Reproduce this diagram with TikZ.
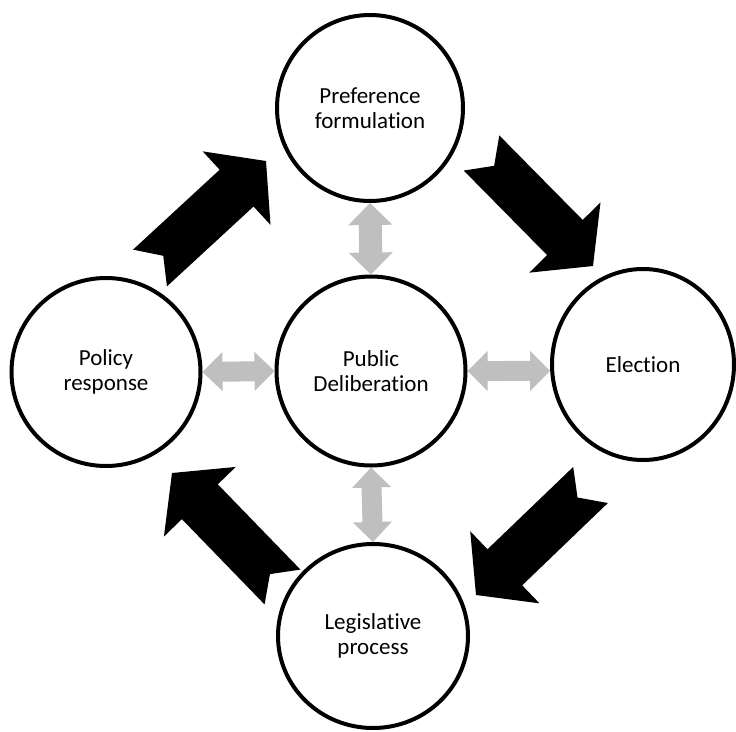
\documentclass[tikz,border=0pt]{standalone}
\usepackage{fontspec}
\setmainfont{Carlito}[Ligatures={NoCommon,NoRare},Contextuals=NoAlternate]
\usetikzlibrary{calc,shapes.geometric}
\definecolor{arrgray}{HTML}{BFBFBF}
\tikzset{
  stage/.style={ellipse, draw=black, line width=4pt, fill=white, inner sep=0pt,
    align=center, font=\fontsize{23}{25.6}\selectfont},
  flowarrow/.style={fill=black},
  linkfill/.style={fill=arrgray},
}
% notched block arrow from #1 (tail middle) to #2 (tip)
\newcommand\mkblockarrow[2]{%
  \fill[flowarrow] ($(#1)!25pt!90:(#2)$)
    -- ($(#2)!40pt!(#1)!25pt!-90:(#1)$)
    -- ($(#2)!40pt!(#1)!50pt!-90:(#1)$)
    -- (#2)
    -- ($(#2)!40pt!(#1)!50pt!90:(#1)$)
    -- ($(#2)!40pt!(#1)!25pt!90:(#1)$)
    -- ($(#1)!25pt!-90:(#2)$)
    -- ($(#1)!18pt!(#2)$) -- cycle;}
% double-headed block arrow: #1,#2 ends, #3 head length, #4 head half width, #5 shaft half width
\newcommand\mkduoarrow[5]{%
  \fill[linkfill] (#1)
    -- ($(#1)!#3!(#2)!#4!90:(#2)$)
    -- ($(#1)!#3!(#2)!#5!90:(#2)$)
    -- ($(#2)!#3!(#1)!#5!-90:(#1)$)
    -- ($(#2)!#3!(#1)!#4!-90:(#1)$)
    -- (#2)
    -- ($(#2)!#3!(#1)!#4!90:(#1)$)
    -- ($(#2)!#3!(#1)!#5!90:(#1)$)
    -- ($(#1)!#3!(#2)!#5!-90:(#2)$)
    -- ($(#1)!#3!(#2)!#4!-90:(#2)$) -- cycle;}
\begin{document}
\begin{tikzpicture}[x=1pt,y=-1pt]
\useasboundingbox (0,0) rectangle (736,731);
\clip (0,0) rectangle (736,731);
\node[stage, minimum width=186pt, minimum height=186pt] (pref) at (370,108) {Preference\\formulation};
\node[stage, minimum width=189pt, minimum height=188pt] (policy) at (106,372) {Policy\\response};
\node[stage, minimum width=189pt, minimum height=189pt] (delib) at (371,371) {Public\\Deliberation};
\node[stage, minimum width=182pt, minimum height=191pt] (elect) at (643,364.5) {Election};
\node[stage, minimum width=190pt, minimum height=184pt] (legis) at (373,636) {Legislative\\process};

\coordinate (a1t) at (150,268);   \coordinate (a1h) at (266,161);
\coordinate (a2t) at (481.5,153); \coordinate (a2h) at (593,266);
\coordinate (a3t) at (590.5,485); \coordinate (a3h) at (476,595);
\coordinate (a4t) at (282.5,587); \coordinate (a4h) at (172,473);

\mkblockarrow{a1t}{a1h}
\mkblockarrow{a2t}{a2h}
\mkblockarrow{a3t}{a3h}
\mkblockarrow{a4t}{a4h}

\mkduoarrow{pref.south}{delib.north}{22pt}{22pt}{11.5pt}
\mkduoarrow{delib.south}{legis.north}{20pt}{19.5pt}{10pt}
\mkduoarrow{policy.east}{delib.west}{20pt}{19.5pt}{10pt}
\mkduoarrow{delib.east}{elect.184.5}{20pt}{20pt}{10pt}
\end{tikzpicture}
\end{document}
